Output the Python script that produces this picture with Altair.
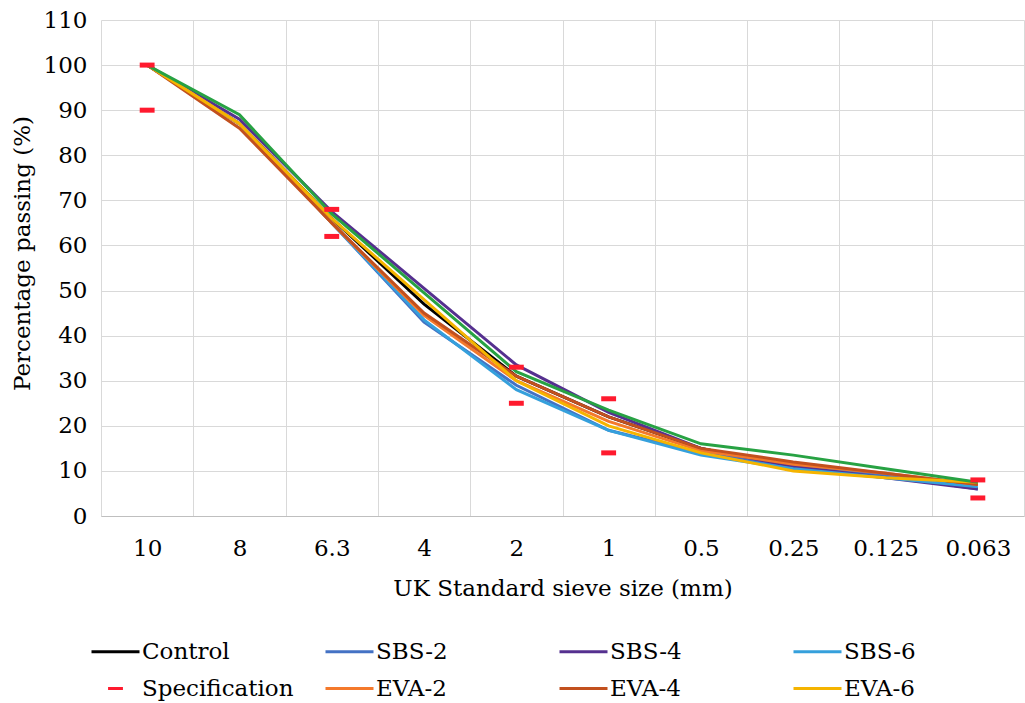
import altair as alt
import pandas as pd

# ---- data ----
sieves = ["10", "8", "6.3", "4", "2", "1", "0.5", "0.25", "0.125", "0.063"]

control = [100, 87, 66, 47, 31, 22, 15, 11, 9, 7]
sbs2 = [100, 87, 65, 43, 29, 19, 14, 11, 9, 6]
sbs4 = [100, 88, 67.5, 50.5, 33.5, 23, 15, 11, 8.5, 6]
sbs6 = [100, 87, 65, 43.5, 28, 19, 13.5, 10.5, 8.5, 6.5]
eva2 = [100, 87, 65, 44.5, 30, 21, 14.5, 11.5, 9.5, 7]
eva4 = [100, 86, 65, 45, 31, 22, 15, 12, 9.5, 7]
eva6 = [100, 87, 66, 48, 30, 20, 14, 10, 8.5, 7.5]
extra_green = [100, 89, 67, 49.5, 32, 23.5, 16, 13.5, 10.5, 7.5]

spec_upper = [100, None, 68, None, 33, 26, None, None, None, 8]
spec_lower = [90, None, 62, None, 25, 14, None, None, None, 4]

series_names = ["Control", "SBS-2", "SBS-4", "SBS-6", "EVA-2", "EVA-4", "EVA-6"]
series_values = [control, sbs2, sbs4, sbs6, eva2, eva4, eva6]

legend_order = ["Control", "SBS-2", "SBS-4", "SBS-6",
                "Specification", "EVA-2", "EVA-4", "EVA-6"]
legend_colors = ["#000000", "#4472c4", "#55308f", "#35a0dc",
                 "#ff1a2e", "#f4792b", "#c2501e", "#f5b400"]
LINE_SYM = "M-2,0H2"
DASH_SYM = "M-0.62,0H0.62"
legend_shapes = [LINE_SYM, LINE_SYM, LINE_SYM, LINE_SYM,
                 DASH_SYM, LINE_SYM, LINE_SYM, LINE_SYM]
green_color = "#27a243"

# ---- tables ----
rows = []
for name, vals in zip(series_names, series_values):
    for i, (s, v) in enumerate(zip(sieves, vals)):
        rows.append({"sieve": s, "idx": i, "series": name, "value": v})
lines_df = pd.DataFrame(rows)

green_df = pd.DataFrame({"sieve": sieves, "idx": list(range(len(sieves))),
                         "value": extra_green})

spec_rows = []
for s, u, l in zip(sieves, spec_upper, spec_lower):
    if u is not None:
        spec_rows.append({"sieve": s, "series": "Specification", "value": u})
    if l is not None:
        spec_rows.append({"sieve": s, "series": "Specification", "value": l})
spec_df = pd.DataFrame(spec_rows)

FONT = "DejaVu Serif"
FS = 23

x_enc = alt.X(
    "sieve:N", sort=sieves,
    scale=alt.Scale(type="band", paddingInner=0, paddingOuter=0),
    axis=alt.Axis(title="UK Standard sieve size (mm)", labelAngle=0, ticks=False,
                  tickBand="extent", grid=True, gridColor="#d9d9d9",
                  domainColor="#bfbfbf", labelFont=FONT, labelFontSize=FS,
                  labelColor="black", labelPadding=21, titleFont=FONT,
                  titleFontSize=FS, titleFontWeight="normal", titleColor="black",
                  titlePadding=17),
)
y_enc = alt.Y(
    "value:Q",
    scale=alt.Scale(domain=[0, 110], nice=False),
    axis=alt.Axis(title="Percentage passing (%)", values=list(range(0, 111, 10)),
                  ticks=False, grid=True, gridColor="#d9d9d9", domain=False,
                  labelFont=FONT, labelFontSize=FS, labelColor="black",
                  labelPadding=14, titleFont=FONT, titleFontSize=FS,
                  titleFontWeight="normal", titleColor="black", titlePadding=9,
                  titleY=233),
)

color_scale = alt.Scale(domain=legend_order, range=legend_colors)
shape_scale = alt.Scale(domain=legend_order, range=legend_shapes)

legend = alt.Legend(title=None, orient="none", legendX=1, legendY=618,
                    columns=4, direction="horizontal", gridAlign="all",
                    columnPadding=25, rowPadding=11, symbolSize=576,
                    symbolStrokeWidth=3, labelFont=FONT, labelFontSize=FS,
                    labelColor="black", labelOffset=13)

lines = alt.Chart(lines_df).mark_line(strokeWidth=3).encode(
    x=x_enc, y=y_enc,
    color=alt.Color("series:N", scale=color_scale, legend=legend),
    order=alt.Order("idx:Q"),
)

green = alt.Chart(green_df).mark_line(strokeWidth=3, color=green_color).encode(
    x=x_enc, y=y_enc, order=alt.Order("idx:Q"),
)

spec = alt.Chart(spec_df).mark_point(filled=False, strokeWidth=5, size=576,
                                     opacity=1).encode(
    x=x_enc, y=y_enc,
    color=alt.Color("series:N", scale=color_scale, legend=legend),
    shape=alt.Shape("series:N", scale=shape_scale, legend=legend),
)

chart = alt.layer(lines, green, spec).properties(
    width=923, height=496,
    padding={"left": 101, "top": 20, "right": 1, "bottom": 187},
    autosize=alt.AutoSizeParams(type="none"),
    background="white",
).configure_view(stroke=None)

chart.save("out.html", embed_options={"renderer": "svg", "actions": False})
